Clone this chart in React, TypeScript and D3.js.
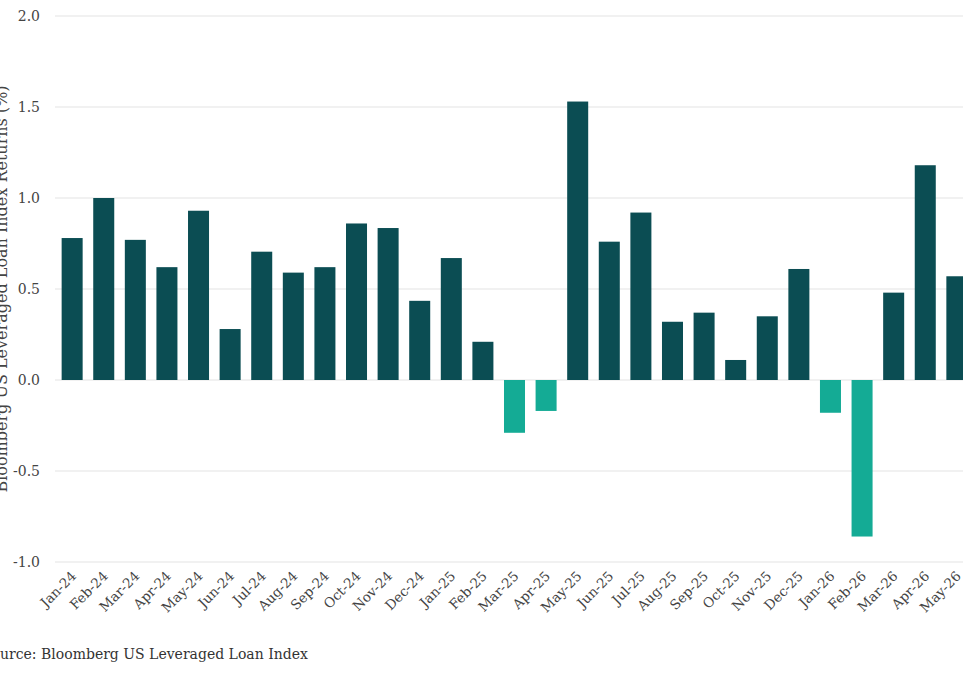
import * as d3 from "d3";

const months = [
    "Jan-24", "Feb-24", "Mar-24", "Apr-24", "May-24", "Jun-24", "Jul-24", "Aug-24", "Sep-24", "Oct-24",
    "Nov-24", "Dec-24", "Jan-25", "Feb-25", "Mar-25", "Apr-25", "May-25", "Jun-25", "Jul-25", "Aug-25",
    "Sep-25", "Oct-25", "Nov-25", "Dec-25", "Jan-26", "Feb-26", "Mar-26", "Apr-26", "May-26",
];
const returns = [
    0.78, 1.0, 0.77, 0.62, 0.93, 0.28, 0.705, 0.59, 0.62, 0.86,
    0.835, 0.435, 0.67, 0.21, -0.29, -0.17, 1.53, 0.76, 0.92, 0.32,
    0.37, 0.11, 0.35, 0.61, -0.18, -0.86, 0.48, 1.18, 0.57,
];
const yTicks = [-1, -0.5, 0, 0.5, 1, 1.5, 2];
const yTitle = "Bloomberg US Leveraged Loan Index Returns (%)";
const sourceNote = "Source: Bloomberg US Leveraged Loan Index";

const width = 963;
const height = 674;
const font = "'DejaVu Serif', Georgia, serif";

const App = () => {
    const marginLeft = 55;
    const marginTop = 16;
    const plotBottom = 562;

    // the band range runs past the right edge, so the last bar is clipped
    const x = d3.scaleBand<string>()
        .domain(months)
        .range([marginLeft, 974])
        .paddingInner(0.335)
        .paddingOuter(0.21);
    const y = d3.scaleLinear().domain([-1, 2]).range([plotBottom, marginTop]);

    return (
        <svg
            width={width}
            height={height}
            style={{ position: 'absolute', left: 0, top: 0, background: '#fff', fontFamily: font }}
        >
            <g>
                { yTicks.map((t, i) => (
                    <line key={i} x1={marginLeft} x2={width} y1={y(t)} y2={y(t)} stroke={'#e3e3e3'} strokeWidth={1.2} />
                )) }
            </g>
            <g>
                { yTicks.map((t, i) => (
                    <text key={i} x={40} y={y(t)} dy="0.35em" textAnchor="end" fontSize={14} fill="#444">
                        {t.toFixed(1)}
                    </text>
                )) }
            </g>
            <g>
                { months.map((m, i) => {
                    const v = returns[i];
                    return (
                        <rect
                            key={m}
                            x={x(m)}
                            width={x.bandwidth()}
                            y={y(Math.max(0, v))}
                            height={Math.abs(y(v) - y(0))}
                            fill={v < 0 ? '#14ab95' : '#0b4d53'}
                        />
                    );
                }) }
            </g>
            <g>
                { months.map((m) => {
                    const cx = (x(m) ?? 0) + x.bandwidth() / 2 + 5;
                    return (
                        <text key={m} transform={`translate(${cx},577) rotate(-45)`} textAnchor="end" fontSize={13.5} fill="#444">
                            {m}
                        </text>
                    );
                }) }
            </g>
            <text
                transform={`translate(7,${(y(2) + y(-1)) / 2}) rotate(-90)`}
                textAnchor="middle"
                fontSize={16}
                fill="#444"
            >
                {yTitle}
            </text>
            <text x={-18} y={659} fontSize={14} fill="#333">{sourceNote}</text>
        </svg>
    );
};

export default App;
